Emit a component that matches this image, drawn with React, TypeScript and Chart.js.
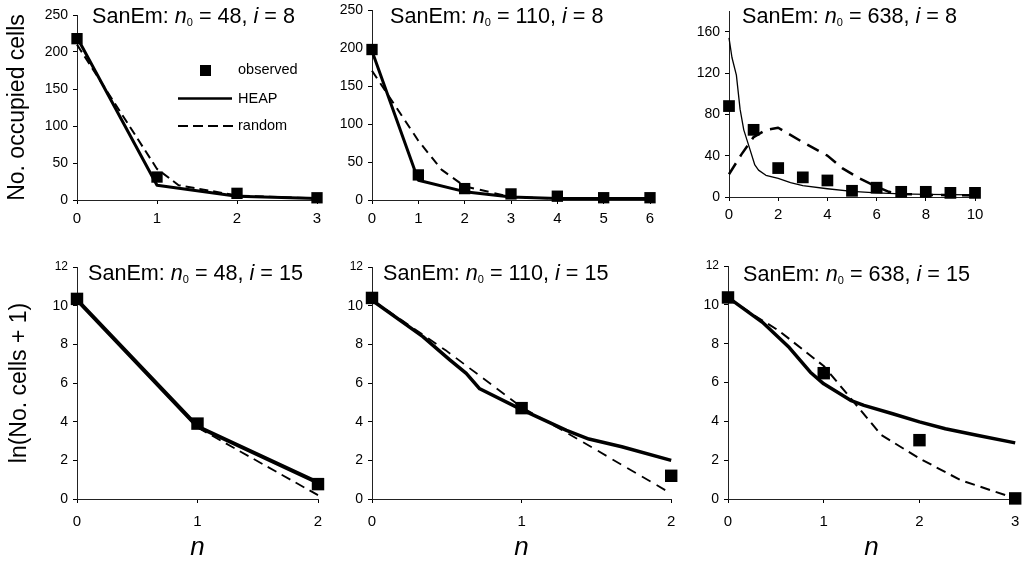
import React, { useEffect, useRef } from 'react';
import { Chart, registerables } from 'chart.js';
Chart.register(...registerables);

const FONT = '"Liberation Sans", Arial, Helvetica, sans-serif';

// ---------- Panel 1: SanEm n0 = 48, i = 8 ----------
const p1XTicks = [0, 1, 2, 3];
const p1YTicks = [0, 50, 100, 150, 200, 250];
const p1ObsX = [0, 1, 2, 3];
const p1Obs = [218, 31, 9, 3];
const p1HeapX = [0, 1, 2, 3];
const p1Heap = [220, 20, 5, 2];
const p1RandX = [0, 1, 1.27, 2, 3];
const p1Rand = [210, 42, 20, 6, 2];

// ---------- Panel 2: SanEm n0 = 110, i = 8 ----------
const p2XTicks = [0, 1, 2, 3, 4, 5, 6];
const p2YTicks = [0, 50, 100, 150, 200, 250];
const p2ObsX = [0, 1, 2, 3, 4, 5, 6];
const p2Obs = [198, 33, 15, 8, 5, 3, 3];
const p2HeapX = [0, 1, 2, 3, 4, 5, 6];
const p2Heap = [196, 26, 11, 4, 2, 2, 2];
const p2RandX = [0, 1, 1.5, 2, 3, 4, 5, 6];
const p2Rand = [170, 78, 40, 18, 4, 2, 2, 2];

// ---------- Panel 3: SanEm n0 = 638, i = 8 ----------
const p3XTicks = [0, 2, 4, 6, 8, 10];
const p3YTicks = [0, 40, 80, 120, 160];
const p3ObsX = [0, 1, 2, 3, 4, 5, 6, 7, 8, 9, 10];
const p3Obs = [88, 65, 28, 19, 16, 6, 9, 5, 5, 4, 4];
const p3HeapX = [0, 0.12, 0.3, 0.45, 0.6, 0.8, 1.05, 1.2, 1.5, 2, 2.5, 3, 4, 5, 6, 7, 8, 10];
const p3Heap = [154, 135, 118, 85, 65, 50, 31, 26, 21, 18, 14, 11, 8, 5.5, 4, 3, 2.5, 2];
const p3RandX = [0, 0.5, 1, 1.5, 2, 3, 4, 4.6, 5.3, 6, 6.5, 7, 8, 10];
const p3Rand = [22, 41, 58, 65, 67, 53, 40, 28, 18, 10, 5, 3, 2, 1.5];

// ---------- Panel 4: SanEm n0 = 48, i = 15 ----------
const p4XTicks = [0, 1, 2];
const p4YTicks = [0, 2, 4, 6, 8, 10, 12];
const p4ObsX = [0, 1, 2];
const p4Obs = [10.35, 3.9, 0.77];
const p4HeapX = [0, 1, 2];
const p4Heap = [10.3, 3.75, 0.85];
const p4RandX = [0, 1, 2];
const p4Rand = [10.3, 3.7, 0.2];

// ---------- Panel 5: SanEm n0 = 110, i = 15 ----------
const p5XTicks = [0, 1, 2];
const p5YTicks = [0, 2, 4, 6, 8, 10, 12];
const p5ObsX = [0, 1, 2];
const p5Obs = [10.4, 4.7, 1.2];
const p5HeapX = [0, 0.34, 0.52, 0.63, 0.72, 1, 1.3, 1.45, 1.67, 2];
const p5Heap = [10.28, 8.4, 7.2, 6.5, 5.7, 4.62, 3.55, 3.1, 2.7, 2.0];
const p5RandX = [0, 0.5, 1, 1.33, 2];
const p5Rand = [10.3, 7.65, 4.75, 3.3, 0.28];

// ---------- Panel 6: SanEm n0 = 638, i = 15 ----------
const p6XTicks = [0, 1, 2, 3];
const p6YTicks = [0, 2, 4, 6, 8, 10, 12];
const p6ObsX = [0, 1, 2, 3];
const p6Obs = [10.38, 6.48, 3.03, 0.03];
const p6HeapX = [0, 0.36, 0.64, 0.86, 1, 1.28, 1.42, 1.72, 2, 2.27, 2.6, 3];
const p6Heap = [10.38, 9.1, 7.8, 6.53, 5.93, 5.08, 4.82, 4.39, 3.97, 3.62, 3.28, 2.89];
const p6RandX = [0, 0.26, 0.53, 1, 1.3, 1.6, 2, 2.43, 3];
const p6Rand = [10.38, 9.5, 8.67, 6.85, 5.08, 3.3, 2.09, 0.97, 0.03];

// ---------- Text ----------
type Seg = { t: string; it?: boolean; sub?: boolean };
const mkTitle = (n0: string, i: string): Seg[] => [
  { t: 'SanEm: ' },
  { t: 'n', it: true },
  { t: '0', sub: true },
  { t: ' = ' + n0 + ', ' },
  { t: 'i', it: true },
  { t: ' = ' + i },
];
const legendLabels = ['observed', 'HEAP', 'random'];
const topYTitle = 'No. occupied cells';
const bottomYTitle = 'ln(No. cells + 1)';
const bottomXTitle = 'n';

type Cfg = {
  box: number[];
  area: number[];
  xTicks: number[];
  yTicks: number[];
  yMax: number;
  obsX: number[];
  obs: number[];
  heapX: number[];
  heap: number[];
  randX: number[];
  rand: number[];
  heapW: number;
  randW: number;
  dash: number[];
  mark: number;
  title: Seg[];
  tpos: number[];
  yTitle?: string;
  yTitlePad?: number;
  xTitle?: string;
  legend?: boolean;
  smallTop?: boolean;
  xPad: number;
};

const panels: Cfg[] = [
  {
    box: [0, 0, 340, 240], area: [77, 15, 317, 200],
    xTicks: p1XTicks, yTicks: p1YTicks, yMax: 250,
    obsX: p1ObsX, obs: p1Obs, heapX: p1HeapX, heap: p1Heap, randX: p1RandX, rand: p1Rand,
    heapW: 3, randW: 2, dash: [9, 5], mark: 8,
    title: mkTitle('48', '8'), tpos: [92, 23],
    yTitle: topYTitle, yTitlePad: 4, legend: true, xPad: 6,
  },
  {
    box: [340, 0, 340, 240], area: [372, 10, 650, 200],
    xTicks: p2XTicks, yTicks: p2YTicks, yMax: 250,
    obsX: p2ObsX, obs: p2Obs, heapX: p2HeapX, heap: p2Heap, randX: p2RandX, rand: p2Rand,
    heapW: 3, randW: 2, dash: [9, 6], mark: 8,
    title: mkTitle('110', '8'), tpos: [390, 23], xPad: 6,
  },
  {
    box: [680, 0, 344, 240], area: [729, 11, 975, 197],
    xTicks: p3XTicks, yTicks: p3YTicks, yMax: 180,
    obsX: p3ObsX, obs: p3Obs, heapX: p3HeapX, heap: p3Heap, randX: p3RandX, rand: p3Rand,
    heapW: 1.3, randW: 2.5, dash: [13, 8], mark: 8.3,
    title: mkTitle('638', '8'), tpos: [742, 23], xPad: 5,
  },
  {
    box: [0, 245, 340, 318], area: [77, 267, 318, 499],
    xTicks: p4XTicks, yTicks: p4YTicks, yMax: 12,
    obsX: p4ObsX, obs: p4Obs, heapX: p4HeapX, heap: p4Heap, randX: p4RandX, rand: p4Rand,
    heapW: 4, randW: 1.8, dash: [10, 6], mark: 8.8,
    title: mkTitle('48', '15'), tpos: [88, 280],
    yTitle: bottomYTitle, yTitlePad: 6, xTitle: bottomXTitle, smallTop: true, xPad: 10,
  },
  {
    box: [340, 245, 340, 318], area: [372, 267, 672, 499],
    xTicks: p5XTicks, yTicks: p5YTicks, yMax: 12,
    obsX: p5ObsX, obs: p5Obs, heapX: p5HeapX, heap: p5Heap, randX: p5RandX, rand: p5Rand,
    heapW: 3.5, randW: 1.8, dash: [10, 7], mark: 8.8,
    title: mkTitle('110', '15'), tpos: [383, 280],
    xTitle: bottomXTitle, smallTop: true, xPad: 10,
  },
  {
    box: [680, 245, 344, 318], area: [728, 266, 1020, 499],
    xTicks: p6XTicks, yTicks: p6YTicks, yMax: 12,
    obsX: p6ObsX, obs: p6Obs, heapX: p6HeapX, heap: p6Heap, randX: p6RandX, rand: p6Rand,
    heapW: 3.5, randW: 2, dash: [10, 6], mark: 8.8,
    title: mkTitle('638', '15'), tpos: [743, 281],
    xTitle: bottomXTitle, smallTop: true, xPad: 10,
  },
];

function Panel({ c }: { c: Cfg }) {
  const ref = useRef<HTMLCanvasElement>(null);
  useEffect(() => {
    const [bl, bt, bw, bh] = c.box;
    const [al, at, ar, ab] = c.area;
    const pts = (xs: number[], ys: number[]) => xs.map((x, i) => ({ x, y: ys[i] }));
    const xMax = c.xTicks[c.xTicks.length - 1];

    const deco = {
      id: 'deco',
      afterDraw(chart: any) {
        const ctx = chart.ctx as CanvasRenderingContext2D;
        ctx.save();
        ctx.fillStyle = '#000';
        ctx.strokeStyle = '#000';
        ctx.textBaseline = 'alphabetic';
        ctx.textAlign = 'left';
        let x = c.tpos[0] - bl;
        const y = c.tpos[1] - bt;
        for (const s of c.title) {
          ctx.font = `${s.it ? 'italic ' : ''}${s.sub ? 11 : 21.6}px ${FONT}`;
          ctx.fillText(s.t, x, s.sub ? y + 3 : y);
          x += ctx.measureText(s.t).width;
        }
        if (c.legend) {
          const lx = 238 - bl;
          ctx.font = `14.5px ${FONT}`;
          // observed
          ctx.fillRect(200 - bl, 65 - bt, 11, 11);
          ctx.fillText(legendLabels[0], lx, 74 - bt);
          // HEAP
          ctx.lineWidth = 2.5;
          ctx.beginPath();
          ctx.moveTo(178 - bl, 98.5 - bt);
          ctx.lineTo(232 - bl, 98.5 - bt);
          ctx.stroke();
          ctx.fillText(legendLabels[1], lx, 102.5 - bt);
          // random
          ctx.lineWidth = 2;
          ctx.setLineDash([10, 5]);
          ctx.beginPath();
          ctx.moveTo(178 - bl, 126 - bt);
          ctx.lineTo(235 - bl, 126 - bt);
          ctx.stroke();
          ctx.setLineDash([]);
          ctx.fillText(legendLabels[2], lx, 130 - bt);
        }
        ctx.restore();
      },
    };

    const chart = new Chart(ref.current as HTMLCanvasElement, {
      type: 'scatter',
      data: {
        datasets: [
          {
            label: legendLabels[0],
            data: pts(c.obsX, c.obs),
            showLine: false,
            pointStyle: 'rect',
            pointRadius: c.mark,
            pointBorderWidth: 0,
            backgroundColor: '#000',
            borderColor: '#000',
            clip: false,
          },
          {
            label: legendLabels[1],
            data: pts(c.heapX, c.heap),
            showLine: true,
            pointRadius: 0,
            borderColor: '#000',
            borderWidth: c.heapW,
            borderJoinStyle: 'round',
            tension: 0,
            clip: false,
          },
          {
            label: legendLabels[2],
            data: pts(c.randX, c.rand),
            showLine: true,
            pointRadius: 0,
            borderColor: '#000',
            borderWidth: c.randW,
            borderDash: c.dash,
            borderJoinStyle: 'round',
            tension: 0,
            clip: false,
          },
        ],
      } as any,
      options: {
        animation: false,
        responsive: false,
        maintainAspectRatio: false,
        devicePixelRatio: 1,
        events: [],
        layout: { padding: { left: 0, top: at - bt, right: bl + bw - ar, bottom: 0 } },
        plugins: { legend: { display: false }, tooltip: { enabled: false } },
        scales: {
          x: {
            type: 'linear',
            min: 0,
            max: xMax,
            afterBuildTicks: (s: any) => {
              s.ticks = c.xTicks.map((v) => ({ value: v }));
            },
            afterFit: (s: any) => {
              s.height = bt + bh - ab;
              s.paddingLeft = 0;
              s.paddingRight = 0;
            },
            ticks: {
              font: { family: FONT, size: 15 },
              color: '#000',
              padding: c.xPad,
              maxRotation: 0,
              autoSkip: false,
            },
            grid: { drawOnChartArea: false, drawTicks: true, tickLength: 4, color: '#000' },
            border: { display: true, color: '#222', width: 1 },
            title: c.xTitle
              ? {
                  display: true,
                  text: c.xTitle,
                  font: { family: FONT, size: 26, style: 'italic' },
                  color: '#000',
                  padding: { top: 0, bottom: 0 },
                }
              : { display: false },
          },
          y: {
            type: 'linear',
            min: 0,
            max: c.yMax,
            afterBuildTicks: (s: any) => {
              s.ticks = c.yTicks.map((v) => ({ value: v }));
            },
            afterFit: (s: any) => {
              s.width = al - bl;
              s.paddingTop = 0;
              s.paddingBottom = 0;
            },
            ticks: {
              font: (ctx: any) => ({
                family: FONT,
                size: c.smallTop && ctx.tick && ctx.tick.value === 12 ? 12 : 14,
              }),
              color: '#000',
              padding: 5,
              autoSkip: false,
            },
            grid: { drawOnChartArea: false, drawTicks: true, tickLength: 4, color: '#000' },
            border: { display: true, color: '#222', width: 1 },
            title: c.yTitle
              ? {
                  display: true,
                  text: c.yTitle,
                  font: { family: FONT, size: 23 },
                  color: '#000',
                  padding: { top: c.yTitlePad || 0, bottom: 0 },
                }
              : { display: false },
          },
        },
      } as any,
      plugins: [deco],
    });
    return () => chart.destroy();
  }, [c]);
  const [bl, bt, bw, bh] = c.box;
  return (
    <canvas
      ref={ref}
      width={bw}
      height={bh}
      style={{ position: 'absolute', left: bl, top: bt, width: bw, height: bh }}
    />
  );
}

export default function App() {
  return (
    <div
      style={{
        position: 'absolute',
        left: 0,
        top: 0,
        width: 1024,
        height: 563,
        overflow: 'hidden',
        background: '#fff',
      }}
    >
      {panels.map((c, i) => (
        <Panel key={i} c={c} />
      ))}
    </div>
  );
}
